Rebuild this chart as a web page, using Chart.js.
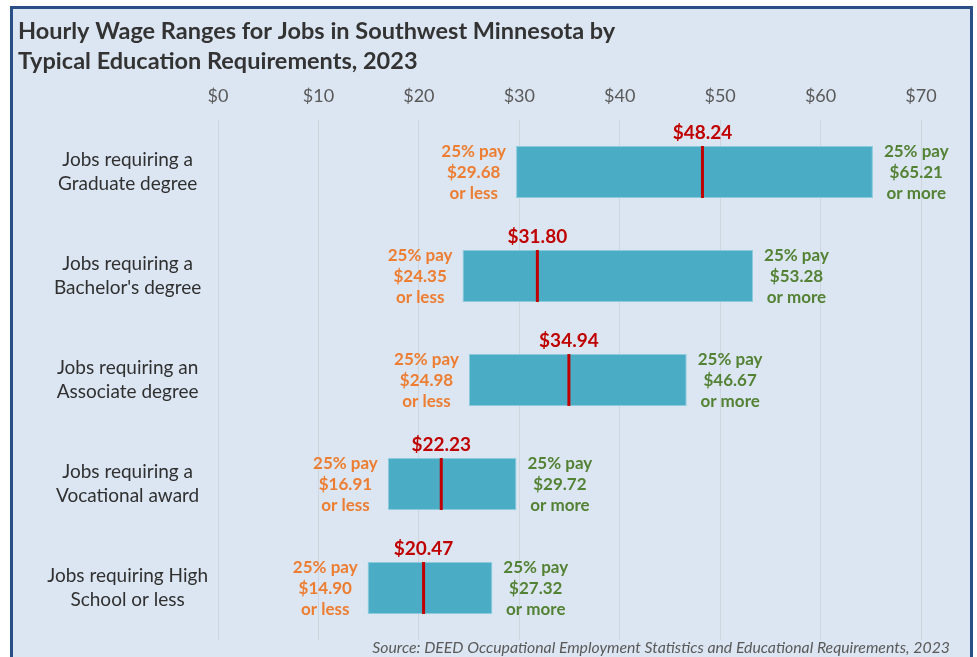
<!DOCTYPE html>
<html>
<head>
<meta charset="utf-8">
<script src="https://cdn.jsdelivr.net/npm/chart.js@4.4.1/dist/chart.umd.min.js"></script>
<style>
  html, body { margin: 0; padding: 0; background: #ffffff; }
  body { width: 977px; height: 657px; position: relative; overflow: hidden; }
  #frame {
    position: absolute; left: 10px; top: 6px; right: 4px; bottom: -10px;
    border: 3px solid #2a4f86; background: #dce6f2;
  }
  #wrap { position: absolute; left: 0; top: 0; width: 977px; height: 657px; }
</style>
</head>
<body>
<div id="frame"></div>
<div id="wrap"><canvas id="wageChart"></canvas></div>
<script>
// Datos del gráfico
const categorias = [
    ['Jobs requiring a', 'Graduate degree'],
    ['Jobs requiring a', "Bachelor's degree"],
    ['Jobs requiring an', 'Associate degree'],
    ['Jobs requiring a', 'Vocational award'],
    ['Jobs requiring High', 'School or less']
];
const percentil25 = [29.68, 24.35, 24.98, 16.91, 14.90];
const mediana = [48.24, 31.80, 34.94, 22.23, 20.47];
const percentil75 = [65.21, 53.28, 46.67, 29.72, 27.32];
const ticksX = [0, 10, 20, 30, 40, 50, 60, 70];

const FONT = "Lato, 'Open Sans', sans-serif";
const fmt = v => '$' + v.toFixed(2);

// Etiquetas: mediana, 25% inferior y 25% superior
const etiquetasPlugin = {
    id: 'etiquetas',
    afterDatasetsDraw(chart) {
        const ctx = chart.ctx;
        const x = chart.scales.x;
        const meta = chart.getDatasetMeta(0);
        ctx.save();
        meta.data.forEach((bar, i) => {
            const { y, height } = bar.getProps(['y', 'height'], true);
            const top = y - height / 2;
            const left = x.getPixelForValue(percentil25[i]);
            const right = x.getPixelForValue(percentil75[i]);
            const mx = x.getPixelForValue(mediana[i]);

            // línea de la mediana
            ctx.strokeStyle = '#c00000';
            ctx.lineWidth = 3;
            ctx.beginPath();
            ctx.moveTo(mx, top);
            ctx.lineTo(mx, top + height);
            ctx.stroke();

            ctx.textBaseline = 'middle';
            ctx.textAlign = 'center';
            ctx.font = 'bold 19px ' + FONT;
            ctx.fillStyle = '#c00000';
            ctx.fillText(fmt(mediana[i]), mx, top - 13);

            ctx.font = 'bold 17px ' + FONT;
            const izq = ['25% pay', fmt(percentil25[i]), 'or less'];
            const der = ['25% pay', fmt(percentil75[i]), 'or more'];
            const wIzq = Math.max(...izq.map(t => ctx.measureText(t).width));
            const wDer = Math.max(...der.map(t => ctx.measureText(t).width));
            ctx.fillStyle = '#ed7d31';
            izq.forEach((t, k) => ctx.fillText(t, left - 10 - wIzq / 2, y + 1 + (k - 1) * 21));
            ctx.fillStyle = '#548235';
            der.forEach((t, k) => ctx.fillText(t, right + 11 + wDer / 2, y + 1 + (k - 1) * 21));
        });
        ctx.restore();
    },
    afterDraw(chart) {
        const ctx = chart.ctx;
        ctx.save();
        ctx.font = 'italic 15.8px ' + FONT;
        ctx.fillStyle = '#595959';
        ctx.textAlign = 'right';
        ctx.textBaseline = 'middle';
        ctx.fillText('Source: DEED Occupational Employment Statistics and Educational Requirements, 2023',
            chart.width - 27, chart.chartArea.bottom + 8);
        ctx.restore();
    }
};

document.addEventListener('DOMContentLoaded', function () {
    const ctx = document.getElementById('wageChart').getContext('2d');
    new Chart(ctx, {
        type: 'bar',
        data: {
            labels: categorias,
            datasets: [{
                data: percentil25.map((v, i) => [v, percentil75[i]]),
                backgroundColor: '#4aacc5',
                borderColor: '#8ccbdc',
                borderWidth: 1,
                borderSkipped: false,
                categoryPercentage: 1,
                barPercentage: 0.5
            }]
        },
        options: {
            indexAxis: 'y',
            responsive: true,
            maintainAspectRatio: false,
            animation: false,
            layout: { padding: { left: 18, right: 56, top: 0, bottom: 17 } },
            plugins: {
                legend: { display: false },
                tooltip: { enabled: false },
                title: {
                    display: true,
                    align: 'start',
                    text: ['Hourly Wage Ranges for Jobs in Southwest Minnesota by',
                           'Typical Education Requirements, 2023'],
                    color: '#333333',
                    font: { family: FONT, size: 23.5, weight: 'bold', lineHeight: 30 / 23.5 },
                    padding: { top: 16, bottom: 8 }
                }
            },
            scales: {
                x: {
                    position: 'top',
                    min: ticksX[0],
                    max: ticksX[ticksX.length - 1],
                    afterBuildTicks: s => { s.ticks = ticksX.map(v => ({ value: v })); },
                    afterFit: s => { s.height = 36; },
                    border: { display: false },
                    grid: { color: '#cfd5dd', lineWidth: 1, drawTicks: false },
                    ticks: {
                        padding: 13,
                        color: '#595959',
                        font: { family: FONT, size: 18, lineHeight: 1.2 },
                        callback: v => '$' + v
                    }
                },
                y: {
                    border: { display: false },
                    grid: { display: false, drawTicks: false },
                    afterFit: s => {
                        s.width = 200;
                        s.paddingTop = 0;
                        s.paddingBottom = 0;
                    },
                    ticks: {
                        crossAlign: 'center',
                        padding: 10,
                        color: '#303030',
                        font: { family: FONT, size: 19, lineHeight: 1.27 }
                    }
                }
            }
        },
        plugins: [etiquetasPlugin]
    });
});
</script>
</body>
</html>
